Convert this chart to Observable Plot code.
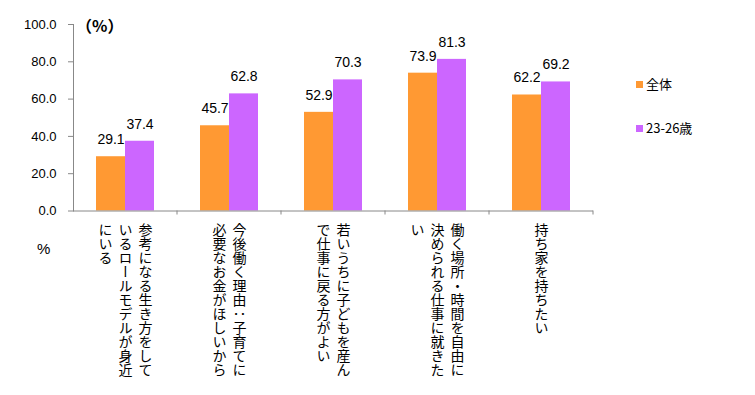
<!DOCTYPE html>
<html><head><meta charset="utf-8">
<script src="https://cdn.jsdelivr.net/npm/d3@7"></script>
<script src="https://cdn.jsdelivr.net/npm/@observablehq/plot@0.6"></script>
<style>
body{margin:0;background:#fff;}
#wrap{position:relative;width:755px;height:395px;font-family:"Liberation Sans",Arial,sans-serif;}
#wrap svg text{fill:#000;}
.abs{position:absolute;white-space:nowrap;font-size:13px;color:#000;line-height:1;}
.jp{font-family:"Noto Sans CJK JP",sans-serif;}
.sw{position:absolute;width:7px;height:7px;}
</style></head><body><div id="wrap"></div>
<script>
const categories = ["参考になる生き方をしているロールモデルが身近にいる","今後働く理由：子育てに必要なお金がほしいから","若いうちに子どもを産んで仕事に戻る方がよい","働く場所・時間を自由に決められる仕事に就きたい","持ち家を持ちたい"];
const labelLines = [
  ["参考になる生き方をして","いるロールモデルが身近","にいる"],
  ["今後働く理由：子育てに","必要なお金がほしいから"],
  ["若いうちに子どもを産ん","で仕事に戻る方がよい"],
  ["働く場所・時間を自由に","決められる仕事に就きた","い"],
  ["持ち家を持ちたい"]
];
const seriesNames = ["全体","23-26歳"];
const valuesAll = [29.1,45.7,52.9,73.9,62.2];
const valuesYoung = [37.4,62.8,70.3,81.3,69.2];
const yTicks = [0,20,40,60,80,100];
const colors = ["#FF9933","#CC66FF"];

const rows = categories.flatMap((c,i)=>[
  {cat:c, series:seriesNames[0], value:valuesAll[i]},
  {cat:c, series:seriesNames[1], value:valuesYoung[i]}
]);
const labelRows = categories.flatMap((c,i)=>labelLines[i].map((t,j)=>({cat:c, text:t, off:(labelLines[i].length-1)/2 - j})));
const offs = [...new Set(labelRows.map(d=>d.off))];

const plot = Plot.plot({
  width:755, height:395, marginLeft:71, marginRight:160, marginTop:24, marginBottom:184.5,
  style:{fontFamily:"Liberation Sans, Arial, sans-serif", fontSize:"13px", color:"#888", background:"white", overflow:"visible"},
  fx:{domain:categories, padding:0, axis:null},
  x:{domain:seriesNames, paddingInner:0, paddingOuter:0.742, axis:null},
  y:{domain:[0,100], ticks:yTicks, tickFormat:d=>d.toFixed(1), tickSize:5, tickPadding:12, line:true, label:null},
  color:{domain:seriesNames, range:colors},
  marks:[
    Plot.barY(rows,{fx:"cat", x:"series", y:"value", fill:"series"}),
    Plot.ruleY([0],{stroke:"#888"}),
    Plot.text(rows,{fx:"cat", x:"series", y:"value", text:d=>d.value.toFixed(1), dy:-17, fontSize:14, fill:"#000"}),
    ...offs.map(o=>Plot.text(labelRows.filter(d=>d.off===o),{fx:"cat", text:"text", frameAnchor:"bottom", textAnchor:"start", lineAnchor:"bottom", dy:12, dx:o*20, fontSize:14, fontFamily:"Noto Sans CJK JP", fill:"#000"}))
  ]
});
const svg = d3.select(plot);
const labelSet = new Set(labelRows.map(d=>d.text));
svg.selectAll("text").filter(function(){return labelSet.has(this.textContent);})
  .style("writing-mode","vertical-rl");
const fxs = plot.scale("fx"), ys = plot.scale("y");
const y0 = ys.apply(0);
svg.append("g").selectAll("line").data(categories).join("line")
  .attr("x1", c=>fxs.apply(c)+fxs.bandwidth).attr("x2", c=>fxs.apply(c)+fxs.bandwidth)
  .attr("y1", y0).attr("y2", y0+4).attr("stroke","#888");
const wrap = document.getElementById("wrap");
wrap.appendChild(plot);
function addText(txt, left, top, cls, size){
  const d=document.createElement("div"); d.className="abs "+(cls||""); d.textContent=txt;
  d.style.left=left+"px"; d.style.top=top+"px"; if(size) d.style.fontSize=size+"px"; wrap.appendChild(d); return d;
}
const pct = addText("（%）", 76, 17, "jp", 16);
pct.style.fontWeight = "bold";
addText("%", 37, 241, "", 15);
seriesNames.forEach((s,i)=>{
  const sw=document.createElement("div"); sw.className="sw"; sw.style.background=colors[i];
  sw.style.left="636px"; sw.style.top=(81+i*44)+"px"; wrap.appendChild(sw);
  addText(s, 646, 77+i*44, "jp", 13);
});
</script></body></html>
